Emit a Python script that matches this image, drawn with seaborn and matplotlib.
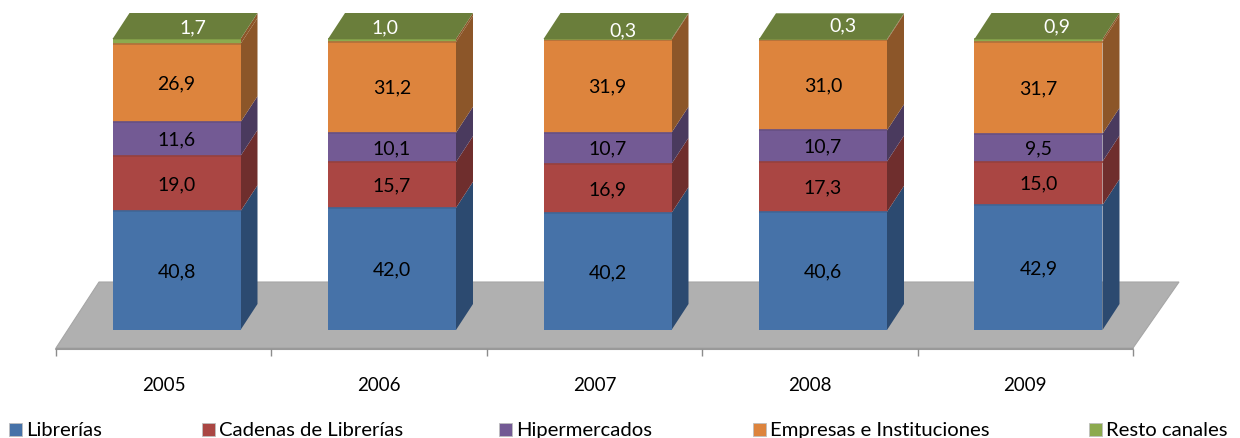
import numpy as np
import pandas as pd
import matplotlib.pyplot as plt
import seaborn as sns
from matplotlib.patches import Polygon, Rectangle

years = ["2005", "2006", "2007", "2008", "2009"]
librerias = [40.8, 42.0, 40.2, 40.6, 42.9]
cadenas = [19.0, 15.7, 16.9, 17.3, 15.0]
hiper = [11.6, 10.1, 10.7, 10.7, 9.5]
empresas = [26.9, 31.2, 31.9, 31.0, 31.7]
resto = [1.7, 1.0, 0.3, 0.3, 0.9]

names = ["Librerías", "Cadenas de Librerías", "Hipermercados", "Empresas e Instituciones", "Resto canales"]
series = [librerias, cadenas, hiper, empresas, resto]
colors = ["#4672A8", "#AA4643", "#735A94", "#DD843D", "#8CAA4E"]
side_colors = ["#2C4A70", "#6F2E2D", "#4A3A5E", "#8C5629", "#8C5629"]
edge_colors = ["#3F6696", "#97403D", "#665084", "#B0703A", "#7F9A47"]
top_color = "#6A7E3B"

# moved labels of the small top series, pixels
top_label_x = [193, 385, 623, 843, 1057]
top_label_y = [28, 28, 31, 26, 27]

sns.set_theme(style="white")
plt.rcParams["font.family"] = ["Lato", "DejaVu Sans"]

# pixel scale of the picture
W, H = 1240, 439
x0, xstep = 176.5, 215.5
y0, ystep = 331, 2.91
def px(x):
    return (x - x0) / xstep
def py(y):
    return (y0 - y) / ystep

fig = plt.figure(figsize=(12.4, 4.39), dpi=100)
ax = fig.add_axes([0, 0, 1, 1])

bar_w = 128 / xstep
dx = 17 / xstep
dy = 26 / ystep

# floor
ax.add_patch(Polygon([(px(56), py(349)), (px(99), py(283)), (px(1179), py(283)), (px(1133), py(349))],
                     closed=True, facecolor="#B0B0B0", edgecolor="#A6A6A6", lw=0.8, zorder=0))
ax.plot([px(56), px(1133)], [py(350), py(350)], color="#999999", lw=1.5, zorder=0.5)
ticks = np.arange(6) * 215.4 + 56
ax.vlines(px(ticks), py(350), py(357), color="#8C8C8C", lw=1, zorder=0.5)

df = pd.DataFrame({"year": years})
cum = np.cumsum(np.array(series), axis=0)

# side faces behind the fronts
for k in range(len(series)):
    for i in range(len(years)):
        b = cum[k - 1][i] if k > 0 else 0
        t = cum[k][i]
        xr = i + bar_w / 2
        ax.add_patch(Polygon([(xr, b), (xr + dx, b + dy), (xr + dx, t + dy), (xr, t)], closed=True,
                             facecolor=side_colors[k], edgecolor="none", zorder=0.8))

# stacked front faces, tallest cumulative layer first
for k in range(len(series) - 1, -1, -1):
    df["value"] = cum[k]
    sns.barplot(data=df, x="year", y="value", ax=ax, color=colors[k], saturation=1,
                width=bar_w, linewidth=0)

# darker seam on top of each segment
for k in range(len(series)):
    ax.hlines(cum[k], np.arange(5) - bar_w / 2, np.arange(5) + bar_w / 2, color=edge_colors[k], lw=1.2, zorder=2)

# top faces
for i in range(len(years)):
    xl = i - bar_w / 2
    xr = i + bar_w / 2
    t = cum[-1][i]
    ax.add_patch(Polygon([(xl, t), (xl + dx, t + dy), (xr + dx, t + dy), (xr, t)], closed=True,
                         facecolor=top_color, edgecolor="none", zorder=3))

# value labels
for k in range(len(series) - 1):
    for i in range(len(years)):
        mid = cum[k][i] - series[k][i] / 2
        ax.text(i, mid, f"{series[k][i]:.1f}".replace(".", ","), ha="center", va="center",
                fontsize=14, color="black", zorder=4)
for i in range(len(years)):
    ax.text(px(top_label_x[i]), py(top_label_y[i]), f"{resto[i]:.1f}".replace(".", ","), ha="center",
            va="center", fontsize=14, color="white", zorder=4)

# year labels
for i, year in enumerate(years):
    ax.text(px(163.7 + 215.4 * i), py(386), year, ha="center", va="center", fontsize=13.5, color="black")

# legend
legend_x = [9, 202, 499, 753, 1089]
for k, name in enumerate(names):
    ax.add_patch(Rectangle((px(legend_x[k]), py(437)), 13 / xstep, 13 / ystep, facecolor=colors[k],
                           edgecolor="#BFBFBF", lw=0.6, zorder=2))
    ax.text(px(legend_x[k] + 17), py(431), name, ha="left", va="center", fontsize=14.6, color="black")

ax.set_xlim(px(0), px(W))
ax.set_ylim(py(H), py(0))
ax.axis("off")

fig.savefig("out.png", dpi=100)
